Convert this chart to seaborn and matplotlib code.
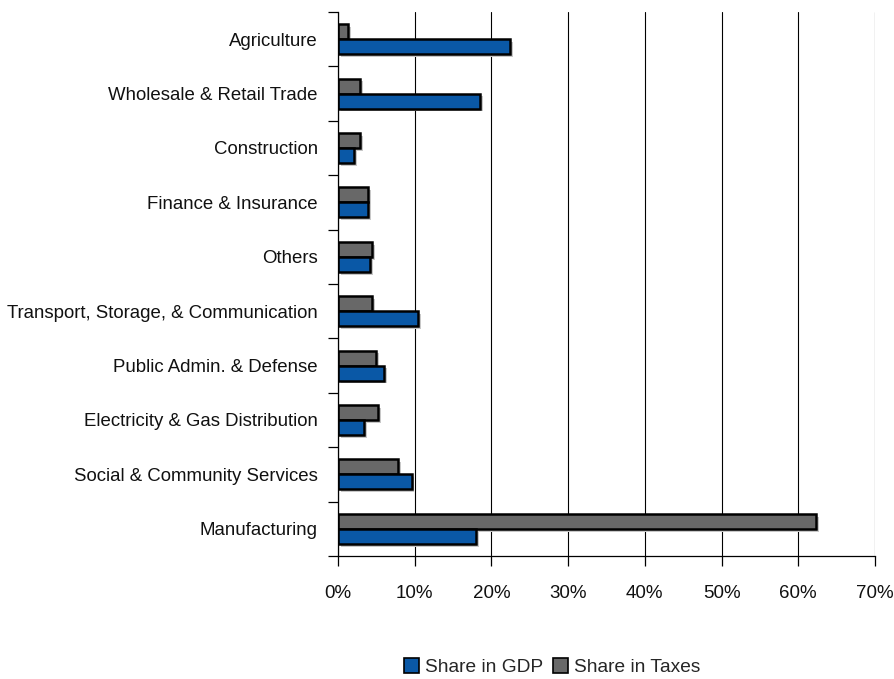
import pandas as pd
import matplotlib
matplotlib.use("Agg")
import matplotlib.pyplot as plt
import matplotlib.patheffects as pe
from matplotlib.patches import Patch
from matplotlib.ticker import FuncFormatter, FixedLocator
import seaborn as sns

# Data (shares, %)
sectors = ['Agriculture', 'Wholesale & Retail Trade', 'Construction',
           'Finance & Insurance', 'Others', 'Transport, Storage, & Communication',
           'Public Admin. & Defense', 'Electricity & Gas Distribution',
           'Social & Community Services', 'Manufacturing']
share_gdp = [22.4, 18.5, 2.1, 3.9, 4.2, 10.4, 6.0, 3.4, 9.6, 18.0]
share_taxes = [1.3, 2.9, 2.9, 3.9, 4.4, 4.4, 5.0, 5.2, 7.8, 62.3]
xticks = [0, 10, 20, 30, 40, 50, 60, 70]

df = pd.DataFrame({'Sector': sectors * 2,
                   'Value': share_taxes + share_gdp,
                   'Series': ['Share in Taxes'] * len(sectors) + ['Share in GDP'] * len(sectors)})

sns.set_style('white')
plt.rcParams['font.family'] = ['Liberation Sans', 'DejaVu Sans']

blue = '#0A58A6'
grey = '#686868'
palette = {'Share in GDP': blue, 'Share in Taxes': grey}

fig = plt.figure(figsize=(8.95, 6.79), dpi=100)
ax = fig.add_axes([338 / 895, 1 - 556 / 679, 537 / 895, 544 / 679])

sns.barplot(data=df, x='Value', y='Sector', hue='Series', order=sectors,
            hue_order=['Share in Taxes', 'Share in GDP'], palette=palette,
            orient='h', width=0.55, edgecolor='black', linewidth=1.8,
            saturation=1, legend=False, ax=ax)

shadow = [pe.SimplePatchShadow(offset=(2, -2), shadow_rgbFace='#c8c8c8', alpha=1), pe.Normal()]
for p in ax.patches:
    p.set_path_effects(shadow)

ax.set_xlim(0, 70)
ax.set_ylim(len(sectors) - 0.5, -0.5)
ax.xaxis.set_major_locator(FixedLocator(xticks))
ax.xaxis.set_major_formatter(FuncFormatter(lambda v, pos: f"{v:.0f}%"))
ax.grid(axis='x', color='black', linewidth=0.8)
ax.set_axisbelow(True)
ax.set_xlabel('')
ax.set_ylabel('')

for side in ['top', 'right']:
    ax.spines[side].set_visible(False)
for side in ['left', 'bottom']:
    ax.spines[side].set_color('black')
    ax.spines[side].set_linewidth(0.9)

# category boundary ticks on y, labels at centres
ax.yaxis.set_minor_locator(FixedLocator([i - 0.5 for i in range(len(sectors) + 1)]))
ax.tick_params(axis='y', which='major', length=0, pad=14.5, labelsize=13.4, colors='#111111')
ax.tick_params(axis='y', which='minor', length=7, width=0.9, color='black', left=True)
ax.tick_params(axis='x', which='major', length=7, width=0.9, color='black', bottom=True,
               pad=14, labelsize=13.5, labelcolor='#111111')
for lbl in ax.get_yticklabels():
    lbl.set_y(lbl.get_position()[1])

handles = [Patch(facecolor=blue, edgecolor='black', linewidth=1.2, label='Share in GDP'),
           Patch(facecolor=grey, edgecolor='black', linewidth=1.2, label='Share in Taxes')]
fig.legend(handles=handles, loc='center', bbox_to_anchor=(552 / 895, 1 - 667 / 679),
           ncol=2, frameon=False, fontsize=13.8, handlelength=0.8, handleheight=0.8,
           handletextpad=0.3, columnspacing=0.5)

fig.savefig('out.png', dpi=100)
